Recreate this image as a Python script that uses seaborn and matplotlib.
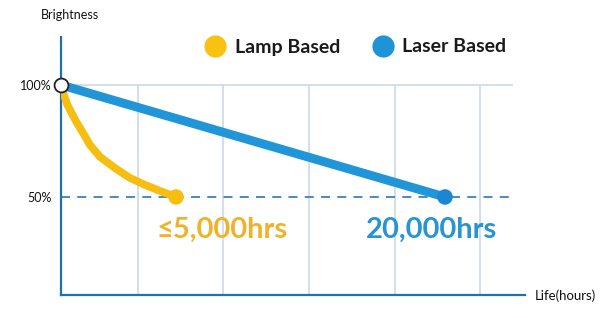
import matplotlib
matplotlib.use("Agg")
import matplotlib.pyplot as plt
import seaborn as sns
from matplotlib.lines import Line2D

# ---- data (x in hours as drawn, y in % brightness) ----
lamp_hours = [0, 156, 313, 573, 833, 1146, 1510, 2031, 2813, 3594, 4375, 5156, 5990]
lamp_brightness = [100, 95.5, 91.5, 87.1, 83.0, 78.6, 73.2, 67.9, 62.9, 58.5, 55.4, 52.7, 50]
laser_hours = [0, 20000]
laser_brightness = [100, 50]
grid_hours = [4010, 8440, 12930, 17400, 21820]
y_ticks = [100, 50]
y_tick_labels = ["100%", "50%"]
series_names = ["Lamp Based", "Laser Based"]
end_labels = ["\u22645,000hrs", "20,000hrs"]

LAMP = "#f7be12"
LAMP_TXT = "#f0b22a"
LASER = "#2096d8"
LASER_TXT = "#2894d3"
AXIS = "#1f6fb3"
GRID = "#c9d9ea"

sns.set_theme(style="white")
plt.rcParams["font.family"] = ["Lato", "DejaVu Sans"]

fig = plt.figure(figsize=(6, 3.18), dpi=100)
ax = fig.add_axes([61 / 600, 23 / 318, 464 / 600, 258 / 318])
ax.set_xlim(0, 24167)
ax.set_ylim(6.25, 121.4)

for s in ("top", "right"):
    ax.spines[s].set_visible(False)
for s in ("left", "bottom"):
    ax.spines[s].set_color(AXIS)
    ax.spines[s].set_linewidth(1.6)
    ax.spines[s].set_zorder(3)

ax.set_xticks([])
ax.set_yticks(y_ticks)
ax.set_yticklabels(y_tick_labels, fontsize=9, color="#111")
ax.tick_params(axis="y", length=0, pad=7)

# grid
ax.vlines(grid_hours, 6.25, y_ticks[0], color=GRID, lw=1.2, zorder=1)
ax.hlines(y_ticks[0], 0, 23540, color=GRID, lw=1.2, zorder=1)
ax.hlines(y_ticks[1], 0, 23650, color="#3d80c0", lw=1.3, linestyles=(0, (5, 4)), zorder=1)

# lines
sns.lineplot(x=lamp_hours, y=lamp_brightness, sort=False, color=LAMP, lw=5.6,
             ax=ax, zorder=4, solid_capstyle="round", solid_joinstyle="round")
sns.lineplot(x=laser_hours, y=laser_brightness, sort=False, color=LASER, lw=6.4,
             ax=ax, zorder=5, solid_capstyle="round")

# end points
sns.scatterplot(x=[lamp_hours[-1]], y=[lamp_brightness[-1]], color=LAMP, s=125,
                edgecolor="none", ax=ax, zorder=6)
sns.scatterplot(x=[laser_hours[-1]], y=[laser_brightness[-1]], color="#1a88d0", s=125,
                edgecolor="none", ax=ax, zorder=6)
# start point
ax.plot([lamp_hours[0]], [lamp_brightness[0]], "o", mfc="white", mec="#222",
        ms=10, mew=1.3, clip_on=False, zorder=10)

# end labels
ax.annotate(end_labels[0], xy=(lamp_hours[-1], lamp_brightness[-1]), xytext=(33, -23.5),
            textcoords="offset points", ha="center", va="center", fontsize=21,
            fontweight="bold", color=LAMP_TXT)
ax.annotate(end_labels[1], xy=(laser_hours[-1], laser_brightness[-1]), xytext=(-10, -23.5),
            textcoords="offset points", ha="center", va="center", fontsize=21,
            fontweight="bold", color=LASER_TXT)

# legend
handles = [
    Line2D([], [], marker="o", ls="", ms=16, mfc="#f9c110", mec="none"),
    Line2D([], [], marker="o", ls="", ms=16, mfc="#1e93d8", mec="none"),
]
ax.legend(handles, series_names, ncol=2, frameon=False, loc="center",
          bbox_to_anchor=(356 / 600, 1 - 47 / 318), bbox_transform=fig.transFigure,
          prop={"weight": "bold", "size": 14}, handlelength=1.0, handletextpad=0.5,
          columnspacing=1.7, labelcolor="#1a1a1a")

# axis titles
fig.text(70 / 600, 1 - 15 / 318, "Brightness", ha="center", va="center", fontsize=9, color="#111")
fig.text(565 / 600, 1 - 296 / 318, "Life(hours)", ha="center", va="center", fontsize=9.5, color="#111")

fig.savefig("out.png", dpi=100, facecolor="white")
